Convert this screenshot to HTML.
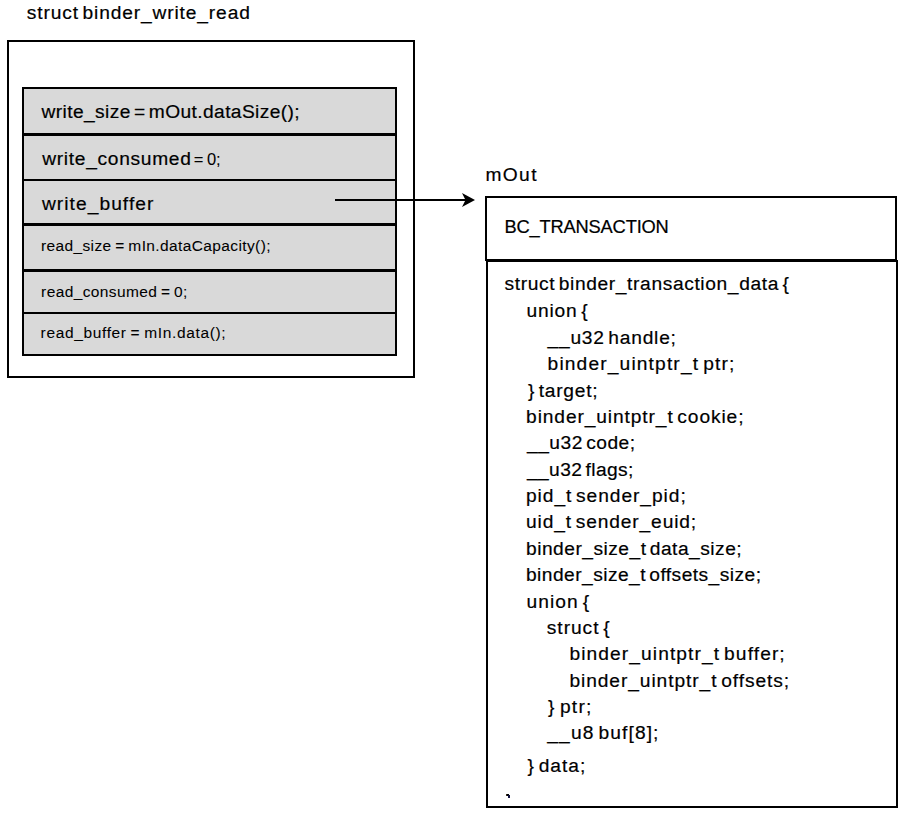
<!DOCTYPE html>
<html><head><meta charset="utf-8"><style>
html,body{margin:0;padding:0;background:#fff;}
body{width:905px;height:815px;position:relative;overflow:hidden;font-family:"Liberation Sans",sans-serif;color:#000;}
.b{position:absolute;box-sizing:border-box;border:2px solid #000;}
.g{background:#d9d9d9;}
.t{position:absolute;white-space:pre;line-height:0;font-size:19.2px;transform-origin:0 0;}
</style></head><body>
<div class="b" style="left:7px;top:40px;width:408px;height:338px"></div>
<div class="b g" style="left:22px;top:87px;width:375px;height:48px"></div>
<div class="b g" style="left:22px;top:134px;width:375px;height:47px"></div>
<div class="b g" style="left:22px;top:179px;width:375px;height:46px"></div>
<div class="b g" style="left:22px;top:224px;width:375px;height:47px"></div>
<div class="b g" style="left:22px;top:270px;width:375px;height:44px"></div>
<div class="b g" style="left:22px;top:312px;width:375px;height:44px"></div>
<div class="b" style="left:485px;top:196px;width:412px;height:65px"></div>
<div class="b" style="left:486px;top:260px;width:412px;height:548px"></div>
<div class="t" style="left:26.80px;top:13.00px;letter-spacing:0.857px;transform:scaleX(1.0)"><span style="font-size:19.2px;word-spacing:-2.5px;-webkit-text-stroke:0.2px #000">struct binder_write_read</span></div>
<div class="t" style="left:41.60px;top:112.00px;letter-spacing:0.389px;transform:scaleX(1.0)"><span style="font-size:19.2px;word-spacing:-2.5px;-webkit-text-stroke:0.2px #000">write_size = mOut.dataSize();</span></div>
<div class="t" style="left:42.20px;top:159.00px;letter-spacing:0.692px;transform:scaleX(1.0)"><span style="font-size:19.2px;word-spacing:-2.5px;-webkit-text-stroke:0.2px #000">write_consumed</span></div>
<div class="t" style="left:193.80px;top:159.00px;letter-spacing:-0.067px;transform:scaleX(1.0)"><span style="font-size:16.5px;word-spacing:-1px;-webkit-text-stroke:0.05px #000">= 0;</span></div>
<div class="t" style="left:41.90px;top:204.00px;letter-spacing:1.055px;transform:scaleX(1.0)"><span style="font-size:19.2px;word-spacing:-2.5px;-webkit-text-stroke:0.2px #000">write_buffer</span></div>
<div class="t" style="left:40.90px;top:245.00px;letter-spacing:0.383px;transform:scaleX(1.0)"><span style="font-size:15.5px;word-spacing:-1px;-webkit-text-stroke:0.05px #000">read_size = mIn.dataCapacity();</span></div>
<div class="t" style="left:41.10px;top:291.00px;letter-spacing:0.382px;transform:scaleX(1.0)"><span style="font-size:15.5px;word-spacing:-1px;-webkit-text-stroke:0.05px #000">read_consumed = 0;</span></div>
<div class="t" style="left:40.60px;top:332.00px;letter-spacing:0.642px;transform:scaleX(1.0)"><span style="font-size:15.5px;word-spacing:-1px;-webkit-text-stroke:0.05px #000">read_buffer = mIn.data();</span></div>
<div class="t" style="left:485.40px;top:175.00px;letter-spacing:1.400px;transform:scaleX(1.0)"><span style="font-size:19.2px;word-spacing:-2.5px;-webkit-text-stroke:0.2px #000">mOut</span></div>
<div class="t" style="left:504.50px;top:227.00px;letter-spacing:-0.177px;transform:scaleX(1.0)"><span style="font-size:18.3px;word-spacing:-2.5px;-webkit-text-stroke:0.2px #000">BC_TRANSACTION</span></div>
<div class="t" style="left:504.60px;top:284.00px;letter-spacing:0.626px;transform:scaleX(1.0)"><span style="font-size:19.2px;word-spacing:-2.5px;-webkit-text-stroke:0.2px #000">struct binder_transaction_data {</span></div>
<div class="t" style="left:526.40px;top:311.00px;letter-spacing:0.850px;transform:scaleX(1.0)"><span style="font-size:19.2px;word-spacing:-2.5px;-webkit-text-stroke:0.2px #000">union {</span></div>
<div class="t" style="left:547.50px;top:338.00px;letter-spacing:0.775px;transform:scaleX(1.0)"><span style="font-size:19.2px;word-spacing:-2.5px;-webkit-text-stroke:0.2px #000">__u32 handle;</span></div>
<div class="t" style="left:547.60px;top:364.00px;letter-spacing:1.140px;transform:scaleX(1.0)"><span style="font-size:19.2px;word-spacing:-2.5px;-webkit-text-stroke:0.2px #000">binder_uintptr_t ptr;</span></div>
<div class="t" style="left:527.90px;top:391.00px;letter-spacing:0.763px;transform:scaleX(1.0)"><span style="font-size:19.2px;word-spacing:-2.5px;-webkit-text-stroke:0.2px #000">} target;</span></div>
<div class="t" style="left:526.10px;top:417.00px;letter-spacing:0.887px;transform:scaleX(1.0)"><span style="font-size:19.2px;word-spacing:-2.5px;-webkit-text-stroke:0.2px #000">binder_uintptr_t cookie;</span></div>
<div class="t" style="left:527.00px;top:443.00px;letter-spacing:0.500px;transform:scaleX(1.0)"><span style="font-size:19.2px;word-spacing:-2.5px;-webkit-text-stroke:0.2px #000">__u32 code;</span></div>
<div class="t" style="left:527.00px;top:470.00px;letter-spacing:0.391px;transform:scaleX(1.0)"><span style="font-size:19.2px;word-spacing:-2.5px;-webkit-text-stroke:0.2px #000">__u32 flags;</span></div>
<div class="t" style="left:526.00px;top:496.00px;letter-spacing:0.938px;transform:scaleX(1.0)"><span style="font-size:19.2px;word-spacing:-2.5px;-webkit-text-stroke:0.2px #000">pid_t sender_pid;</span></div>
<div class="t" style="left:526.00px;top:522.00px;letter-spacing:0.871px;transform:scaleX(1.0)"><span style="font-size:19.2px;word-spacing:-2.5px;-webkit-text-stroke:0.2px #000">uid_t sender_euid;</span></div>
<div class="t" style="left:526.00px;top:549.00px;letter-spacing:0.487px;transform:scaleX(1.0)"><span style="font-size:19.2px;word-spacing:-2.5px;-webkit-text-stroke:0.2px #000">binder_size_t data_size;</span></div>
<div class="t" style="left:526.00px;top:575.00px;letter-spacing:0.450px;transform:scaleX(1.0)"><span style="font-size:19.2px;word-spacing:-2.5px;-webkit-text-stroke:0.2px #000">binder_size_t offsets_size;</span></div>
<div class="t" style="left:526.40px;top:602.00px;letter-spacing:1.100px;transform:scaleX(1.0)"><span style="font-size:19.2px;word-spacing:-2.5px;-webkit-text-stroke:0.2px #000">union {</span></div>
<div class="t" style="left:546.80px;top:628.00px;letter-spacing:0.957px;transform:scaleX(1.0)"><span style="font-size:19.2px;word-spacing:-2.5px;-webkit-text-stroke:0.2px #000">struct {</span></div>
<div class="t" style="left:569.40px;top:654.00px;letter-spacing:1.091px;transform:scaleX(1.0)"><span style="font-size:19.2px;word-spacing:-2.5px;-webkit-text-stroke:0.2px #000">binder_uintptr_t buffer;</span></div>
<div class="t" style="left:569.40px;top:681.00px;letter-spacing:0.917px;transform:scaleX(1.0)"><span style="font-size:19.2px;word-spacing:-2.5px;-webkit-text-stroke:0.2px #000">binder_uintptr_t offsets;</span></div>
<div class="t" style="left:548.10px;top:707.00px;letter-spacing:1.280px;transform:scaleX(1.0)"><span style="font-size:19.2px;word-spacing:-2.5px;-webkit-text-stroke:0.2px #000">} ptr;</span></div>
<div class="t" style="left:547.30px;top:733.00px;letter-spacing:1.118px;transform:scaleX(1.0)"><span style="font-size:19.2px;word-spacing:-2.5px;-webkit-text-stroke:0.2px #000">__u8 buf[8];</span></div>
<div class="t" style="left:527.50px;top:766.00px;letter-spacing:0.967px;transform:scaleX(1.0)"><span style="font-size:19.2px;word-spacing:-2.5px;-webkit-text-stroke:0.2px #000">} data;</span></div>
<svg style="position:absolute;left:0;top:0" width="905" height="815">
<rect x="335" y="199" width="131" height="2" fill="#000"/>
<polygon points="475,200 462,193 465.5,200 462,207" fill="#000"/>
<rect x="506" y="794" width="1" height="2" fill="#3a3020"/><rect x="507" y="794" width="2" height="2" fill="#000"/><rect x="508" y="795" width="2" height="3" fill="#101040"/>
</svg>
</body></html>
